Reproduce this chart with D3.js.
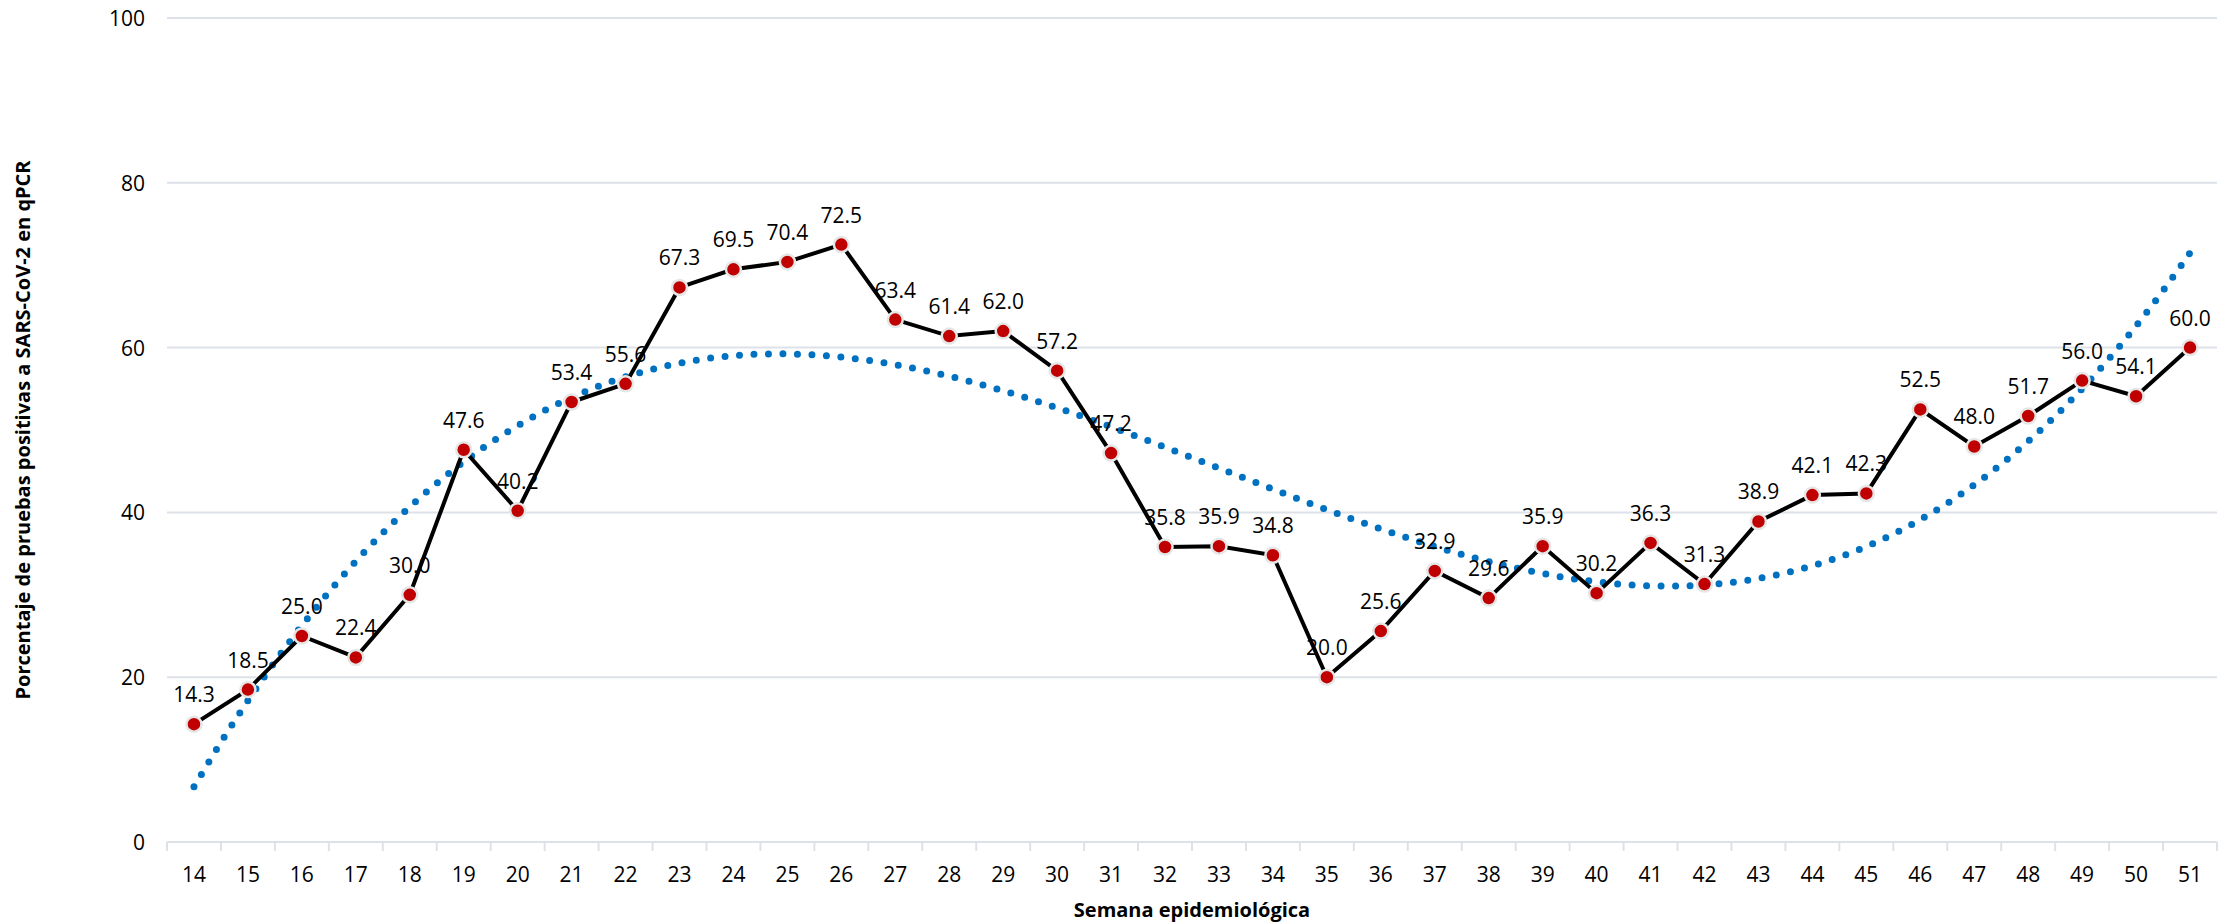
<!DOCTYPE html>
<html><head><meta charset="utf-8">
<script src="https://cdn.jsdelivr.net/npm/d3@7"></script>
<style>body{margin:0;background:#fff}text{font-family:"Open Sans",Calibri,sans-serif}</style>
</head><body><svg id="chart" width="2236" height="924"></svg>
<script>
var weeks = [14,15,16,17,18,19,20,21,22,23,24,25,26,27,28,29,30,31,32,33,34,35,36,37,38,39,40,41,42,43,44,45,46,47,48,49,50,51];
var values = [14.3,18.5,25.0,22.4,30.0,47.6,40.2,53.4,55.6,67.3,69.5,70.4,72.5,63.4,61.4,62.0,57.2,47.2,35.8,35.9,34.8,20.0,25.6,32.9,29.6,35.9,30.2,36.3,31.3,38.9,42.1,42.3,52.5,48.0,51.7,56.0,54.1,60.0];
var yTicks = [0,20,40,60,80,100];

// least squares polynomial fit (Excel style trendline), x centred for stability
function polyfit(xs, ys, order) {
    var m = d3.mean(xs), u = xs.map(function(x){return (x-m)/10;});
    var n = order + 1, A = [], b = [];
    for (var i = 0; i < n; i++) {
        A.push([]); b.push(d3.sum(u, function(x,k){return Math.pow(x,i)*ys[k];}));
        for (var j = 0; j < n; j++) A[i].push(d3.sum(u, function(x){return Math.pow(x,i+j);}));
    }
    for (var c = 0; c < n; c++) {
        for (var r = c+1; r < n; r++) {
            var f = A[r][c]/A[c][c];
            for (var k = c; k < n; k++) A[r][k] -= f*A[c][k];
            b[r] -= f*b[c];
        }
    }
    var coef = new Array(n);
    for (var r = n-1; r >= 0; r--) {
        var s = b[r];
        for (var k = r+1; k < n; k++) s -= A[r][k]*coef[k];
        coef[r] = s/A[r][r];
    }
    return function(x){ var v = (x-m)/10; return d3.sum(coef, function(a,i){return a*Math.pow(v,i);}); };
}

var svg = d3.select('#chart');
var pl = 167, pr = 2217, pt = 18, pb = 842;
var xs = d3.scaleBand().domain(weeks).range([pl, pr]);
var ys = d3.scaleLinear().domain([0,100]).range([pb, pt]);
var cx = function(w){ return xs(w) + xs.bandwidth()/2; };

svg.append('g').selectAll('line').data(yTicks.slice(1)).enter().append('line')
    .attr('x1', pl).attr('x2', pr)
    .attr('y1', function(d){return ys(d);}).attr('y2', function(d){return ys(d);})
    .attr('stroke', '#dde2e8').attr('stroke-width', 2);

svg.append('g').selectAll('text').data(yTicks).enter().append('text')
    .attr('x', 145).attr('y', function(d){return ys(d)+8;})
    .attr('text-anchor','end').attr('font-size', 21).text(function(d){return d;});

var xa = svg.append('g');
xa.append('line').attr('x1', pl).attr('x2', pr).attr('y1', pb).attr('y2', pb)
    .attr('stroke', '#dde2e8').attr('stroke-width', 2);
xa.selectAll('line.t').data(weeks.concat(['end'])).enter().append('line').attr('class','t')
    .attr('x1', function(d,i){return pl + i*xs.step();}).attr('x2', function(d,i){return pl + i*xs.step();})
    .attr('y1', pb).attr('y2', pb+9).attr('stroke', '#dde2e8').attr('stroke-width', 2);
xa.selectAll('text').data(weeks).enter().append('text')
    .attr('x', cx).attr('y', pb+40).attr('text-anchor','middle').attr('font-size', 21)
    .text(function(d){return d;});

svg.append('text').attr('x', (pl+pr)/2).attr('y', 917).attr('text-anchor','middle')
    .attr('font-size', 20).attr('font-weight','bold').text('Semana epidemiológica');
svg.append('text').attr('transform','translate(30,'+((pt+pb)/2)+') rotate(-90)')
    .attr('text-anchor','middle').attr('font-size', 20).attr('font-weight','bold')
    .text('Porcentaje de pruebas positivas a SARS-CoV-2 en qPCR');

// trendline (polynomial, order 3)
var fit = polyfit(weeks, values, 3);
var tx = d3.range(0, 1.0001, 0.005).map(function(t){ return 14 + t*37; });
var tline = d3.line()
    .x(function(w){ return cx(14) + (w-14)*xs.step(); })
    .y(function(w){ return ys(fit(w)); });
svg.append('path').datum(tx.filter(function(w){return fit(w) >= 0;}))
    .attr('d', tline).attr('fill','none').attr('stroke','#0070c0')
    .attr('stroke-width', 7).attr('stroke-linecap','round').attr('stroke-dasharray','0 14.5');

var line = d3.line().x(function(d,i){return cx(weeks[i]);}).y(function(d){return ys(d);});
svg.append('path').datum(values).attr('d', line).attr('fill','none')
    .attr('stroke','#000').attr('stroke-width', 4);

svg.append('g').selectAll('circle').data(values).enter().append('circle')
    .attr('cx', function(d,i){return cx(weeks[i]);}).attr('cy', function(d){return ys(d);})
    .attr('r', 7.5).attr('fill','#c00000').attr('stroke','#e6e6e6').attr('stroke-width', 2.5);

svg.append('g').selectAll('text').data(values).enter().append('text')
    .attr('x', function(d,i){return cx(weeks[i]);}).attr('y', function(d){return ys(d)-22;})
    .attr('text-anchor','middle').attr('font-size', 21).text(function(d){return d.toFixed(1);});
</script></body></html>
